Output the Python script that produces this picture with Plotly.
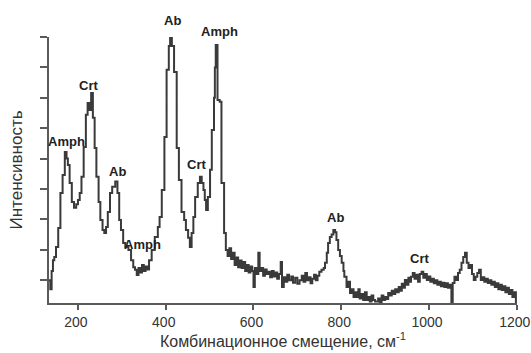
import plotly.graph_objects as go

# Raman shift (cm^-1) and intensity (a.u.)
shift = [134, 137, 140, 143, 146, 150, 155, 160, 165, 170, 174, 177, 181, 186, 191, 196, 200, 204, 208,
         213, 218, 222, 226, 230, 234, 238, 242, 247, 251, 256, 260, 264, 268, 273, 278, 285, 290, 294,
         298, 303, 308, 315, 321, 326, 330, 334, 338, 342, 346, 350, 354, 358, 362, 368, 375, 382, 386,
         391, 397, 402, 407, 410, 414, 419, 425, 430, 436, 442, 446, 451, 455, 459, 463, 467, 473, 478,
         482, 486, 489, 492, 496, 501, 505, 510, 512, 514, 518, 523, 527, 533, 537, 541, 545, 549, 553,
         557, 561, 565, 569, 573, 577, 581, 585, 589, 593, 597, 600, 603, 607, 611, 614, 618, 622, 626,
         630, 634, 638, 642, 646, 650, 654, 658, 662, 665, 669, 673, 677, 681, 686, 690, 695, 700, 705,
         710, 714, 718, 722, 726, 730, 734, 738, 742, 746, 750, 755, 760, 763, 767, 770, 774, 778, 782,
         786, 789, 793, 797, 801, 805, 807, 812, 816, 820, 824, 828, 831, 835, 839, 842, 846, 850, 854,
         858, 861, 865, 869, 873, 877, 884, 888, 892, 896, 900, 904, 907, 911, 915, 919, 923, 927, 931,
         935, 938, 941, 945, 949, 953, 956, 959, 963, 967, 971, 975, 979, 983, 987, 991, 995, 999, 1003,
         1007, 1011, 1015, 1019, 1023, 1027, 1031, 1035, 1039, 1043, 1047, 1051, 1054, 1058, 1062, 1066,
         1070, 1074, 1078, 1082, 1086, 1090, 1094, 1098, 1102, 1106, 1110, 1114, 1118, 1122, 1126, 1130,
         1134, 1138, 1142, 1146, 1150, 1154, 1158, 1162, 1166, 1170, 1174, 1178, 1182, 1186, 1190, 1194,
         1198, 1200]
intensity = [100, 70, 130, 166, 176, 209, 272, 387, 446, 522, 500, 479, 420, 357, 338, 350, 364, 387, 440,
             538, 644, 683, 660, 716, 634, 535, 440, 357, 298, 265, 255, 275, 324, 387, 407, 425, 387, 298,
             265, 222, 209, 199, 166, 143, 134, 117, 140, 125, 150, 130, 145, 135, 166, 199, 242, 275, 308,
             397, 571, 792, 870, 900, 870, 785, 535, 430, 324, 298, 265, 240, 209, 255, 308, 374, 420, 440,
             420, 397, 364, 331, 374, 463, 594, 700, 800, 874, 693, 687, 420, 255, 199, 180, 205, 170, 190,
             150, 175, 143, 165, 140, 160, 130, 150, 125, 145, 130, 78, 140, 120, 190, 130, 140, 115, 135,
             120, 128, 110, 130, 112, 125, 105, 120, 160, 78, 110, 95, 118, 100, 112, 92, 108, 88, 100,
             115, 95, 124, 100, 110, 90, 105, 118, 100, 115, 128, 134, 140, 157, 190, 222, 242, 250, 265,
             258, 232, 199, 180, 157, 130, 111, 78, 95, 58, 70, 45, 60, 45, 70, 40, 55, 35, 60,
             35, 45, 30, 50, 35, 30, 40, 28, 50, 35, 45, 38, 58, 50, 65, 55, 70, 60, 78,
             65, 88, 75, 101, 85, 108, 95, 111, 124, 105, 118, 95, 120, 128, 108, 120, 101, 112, 95,
             105, 90, 100, 85, 95, 80, 92, 78, 90, 75, 85, 25, 91, 111, 101, 124,
             134, 157, 176, 190, 157, 140, 150, 120, 101, 111, 124, 134, 101, 110, 95, 105,
             91, 100, 85, 95, 78, 90, 70, 85, 68, 80, 60, 75, 55, 68, 45, 60,
             25, 25]

# Peak assignments (position in cm^-1, height in a.u.)
label_text = ["Amph", "Crt", "Ab", "Amph", "Ab", "Crt", "Amph", "Ab", "Crt"]
label_x = [173, 225, 289, 346, 416, 469, 523, 788, 979]
label_y = [555, 742, 456, 216, 953, 479, 917, 305, 170]

x_ticks = [200, 400, 600, 800, 1000, 1200]
y_ticks = [100, 200, 300, 400, 500, 600, 700, 800, 900]

Y_MIN, Y_MAX = 25, 900
X_MIN, X_MAX = 134, 1200.5

line_color = "#3a3a3a"
axis_color = "#5a5a5a"

fig = go.Figure()
fig.add_trace(go.Scatter(
    x=shift, y=intensity, mode="lines", line_shape="hv",
    line=dict(color=line_color, width=2), cliponaxis=False,
    showlegend=False, hoverinfo="skip"))

for t, x, y in zip(label_text, label_x, label_y):
    # paper y so labels above the axis top are still drawn
    fig.add_annotation(x=x, xref="x", y=(y - Y_MIN) / (Y_MAX - Y_MIN), yref="paper",
                       text="<b>" + t + "</b>", showarrow=False,
                       font=dict(family="Liberation Sans, Arial, sans-serif", size=13, color="#222"),
                       xanchor="center", yanchor="middle")

fig.update_layout(
    width=531, height=353,
    margin=dict(l=49, r=14, t=37, b=50, autoexpand=False),
    paper_bgcolor="white", plot_bgcolor="white",
    font=dict(family="Liberation Sans, Arial, sans-serif", color="#333"),
)
fig.update_xaxes(
    range=[X_MIN, X_MAX], tickvals=x_ticks, ticktext=[str(v) for v in x_ticks],
    showgrid=False, zeroline=False, showline=True, linecolor=axis_color, linewidth=2,
    ticks="outside", ticklen=5, tickwidth=2, tickcolor=axis_color, automargin=False,
    tickfont=dict(size=14, color="#333"), ticklabeloverflow="allow", ticklabelshift=-2,
    title=dict(text="Комбинационное смещение, см<sup>-1</sup>", font=dict(size=16, color="#333"), standoff=7),
)
fig.update_yaxes(
    range=[Y_MIN, Y_MAX], tickvals=y_ticks, showticklabels=False,
    showgrid=False, zeroline=False, showline=True, linecolor=axis_color, linewidth=2,
    ticks="outside", ticklen=7, tickwidth=2, tickcolor=axis_color, automargin=False,
    title=dict(text="Интенсивность", font=dict(size=17, color="#333"), standoff=13),
)

fig.write_html("out.html", config={"displayModeBar": False},
               post_script="document.body.style.margin='0';document.body.style.overflow='hidden';")
